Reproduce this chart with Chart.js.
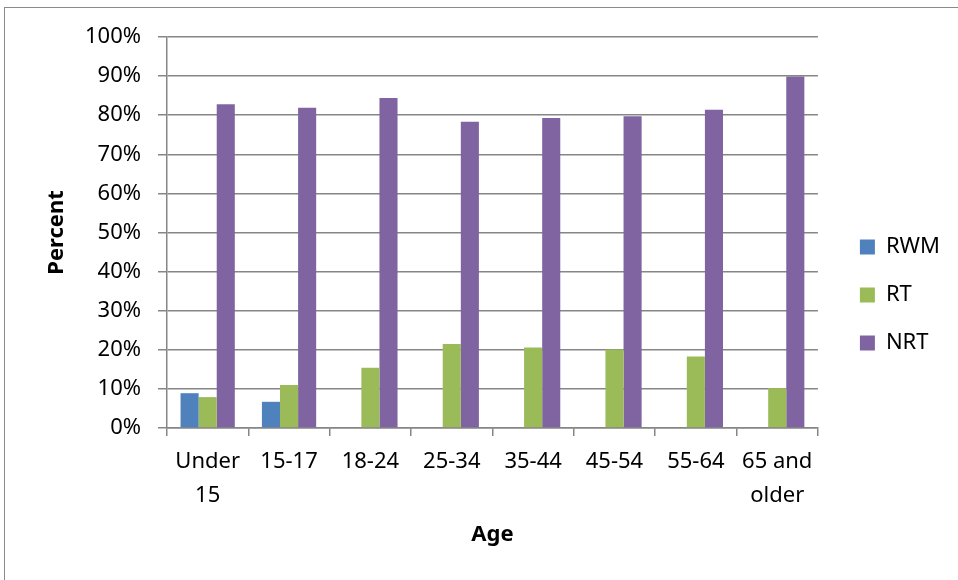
<!DOCTYPE html>
<html>
<head>
    <meta charset="UTF-8">
    <title>Percent by Age</title>
    <style>
        body {
            margin: 0;
            background: #ffffff;
        }
    </style>
    <script src="https://cdn.jsdelivr.net/npm/chart.js@4.4.0/dist/chart.umd.min.js"></script>
</head>
<body>
<canvas id="bar-chart" width="958" height="580"></canvas>
<script>
    // chart data
    var ageGroups = [['Under', '15'], '15-17', '18-24', '25-34', '35-44', '45-54', '55-64', ['65 and', 'older']];
    var rwm = [8.9, 6.7, 0, 0, 0, 0, 0, 0];
    var rt = [7.9, 11.0, 15.4, 21.5, 20.6, 20.1, 18.3, 10.2];
    var nrt = [82.8, 81.9, 84.4, 78.3, 79.3, 79.7, 81.4, 89.9];
    var percentTicks = [0, 10, 20, 30, 40, 50, 60, 70, 80, 90, 100];

    var gridGrey = '#868686';
    var baseFont = { family: 'Noto Sans', size: 22 };
    var boldFont = { family: 'Noto Sans', size: 22, weight: 'bold' };

    // grey frame round the whole picture
    var framePlugin = {
        id: 'frame',
        afterDraw: function(chart) {
            var ctx = chart.ctx;
            ctx.save();
            ctx.strokeStyle = '#8a8a8a';
            ctx.lineWidth = 1;
            ctx.strokeRect(4.5, 7.5, 980, 600);
            ctx.restore();
        }
    };

    Chart.defaults.color = '#000000';

    var ctx = document.getElementById('bar-chart').getContext('2d');
    var chart = new Chart(ctx, {
        type: 'bar',
        data: {
            labels: ageGroups,
            datasets: [
                { label: 'RWM', data: rwm, backgroundColor: '#4F81BD' },
                { label: 'RT', data: rt, backgroundColor: '#9BBB59' },
                { label: 'NRT', data: nrt, backgroundColor: '#8064A2' }
            ]
        },
        options: {
            responsive: false,
            animation: false,
            layout: {
                padding: { top: 37, left: 0, right: 8, bottom: 27 }
            },
            datasets: {
                bar: {
                    categoryPercentage: 0.667,
                    barPercentage: 1.0,
                    borderWidth: 0
                }
            },
            plugins: {
                tooltip: { enabled: false },
                legend: {
                    position: 'right',
                    labels: {
                        font: baseFont,
                        boxWidth: 15,
                        boxHeight: 15,
                        padding: 26
                    }
                }
            },
            scales: {
                x: {
                    grid: {
                        display: true,
                        drawOnChartArea: false,
                        drawTicks: true,
                        tickLength: 8,
                        color: gridGrey,
                        lineWidth: 1.5
                    },
                    border: { display: true, color: gridGrey, width: 1.5 },
                    ticks: {
                        font: { family: 'Noto Sans', size: 22, lineHeight: 1.545 },
                        padding: 9,
                        maxRotation: 0,
                        autoSkip: false
                    },
                    title: {
                        display: true,
                        text: 'Age',
                        font: boldFont,
                        padding: { top: 0, bottom: 5 }
                    },
                    afterFit: function(scale) {
                        scale.height = 125;
                    }
                },
                y: {
                    min: 0,
                    max: 100,
                    grid: {
                        color: gridGrey,
                        lineWidth: 1.5,
                        tickLength: 9
                    },
                    border: { display: true, color: gridGrey, width: 1.5 },
                    ticks: {
                        font: baseFont,
                        padding: 17,
                        callback: function(value) {
                            return value + '%';
                        }
                    },
                    afterBuildTicks: function(scale) {
                        scale.ticks = percentTicks.map(function(v) { return { value: v }; });
                    },
                    title: {
                        display: true,
                        text: 'Percent',
                        font: boldFont,
                        padding: { top: 44, bottom: 0 }
                    },
                    afterFit: function(scale) {
                        scale.width = 167;
                    }
                },
                // empty spacer between plot and legend
                spacer: {
                    type: 'linear',
                    position: 'right',
                    display: true,
                    grid: { display: false },
                    border: { display: false },
                    ticks: { display: false },
                    afterFit: function(scale) {
                        scale.width = 16;
                    }
                }
            }
        },
        plugins: [framePlugin]
    });
</script>
</body>
</html>
